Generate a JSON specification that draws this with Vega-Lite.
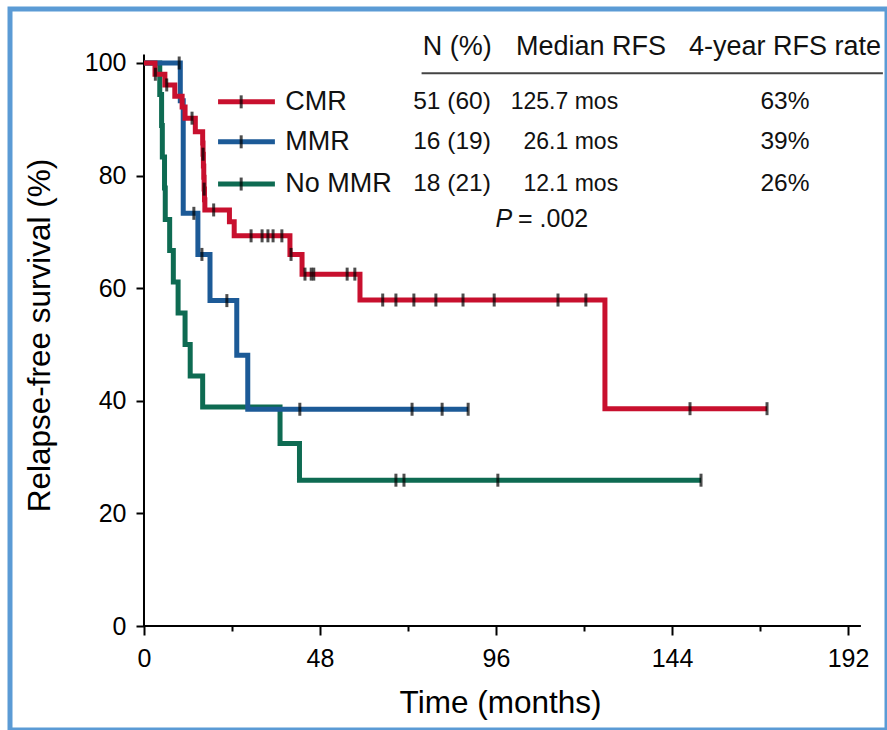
{
  "$schema": "https://vega.github.io/schema/vega-lite/v6.json",
  "width": 877,
  "height": 721,
  "autosize": {"type": "none"},
  "padding": {"left": 10, "top": 9, "right": 0, "bottom": 0},
  "background": "white",
  "config": {
    "view": {"stroke": "#5B9BD5", "strokeWidth": 5},
    "font": "Liberation Sans",
    "text": {"font": "Liberation Sans", "fontSize": 25, "color": "#111111", "baseline": "middle"}
  },
  "datasets": {
    "curves": [
      {"group": "CMR", "t": 0, "s": 100}, {"group": "CMR", "t": 3.0, "s": 98.0}, {"group": "CMR", "t": 5.7, "s": 96.1},
      {"group": "CMR", "t": 8.4, "s": 94.1}, {"group": "CMR", "t": 10.4, "s": 92.2}, {"group": "CMR", "t": 11.2, "s": 90.2},
      {"group": "CMR", "t": 14.0, "s": 87.8}, {"group": "CMR", "t": 16.0, "s": 85.8}, {"group": "CMR", "t": 16.1, "s": 83.8},
      {"group": "CMR", "t": 16.2, "s": 81.7}, {"group": "CMR", "t": 16.3, "s": 79.7}, {"group": "CMR", "t": 16.4, "s": 77.6},
      {"group": "CMR", "t": 16.5, "s": 75.7}, {"group": "CMR", "t": 16.6, "s": 73.9}, {"group": "CMR", "t": 23.3, "s": 71.8},
      {"group": "CMR", "t": 24.6, "s": 69.3}, {"group": "CMR", "t": 39.8, "s": 66.0}, {"group": "CMR", "t": 43.1, "s": 62.5},
      {"group": "CMR", "t": 58.9, "s": 57.9}, {"group": "CMR", "t": 125.7, "s": 38.6}, {"group": "CMR", "t": 169.9, "s": 38.6},
      {"group": "MMR", "t": 0, "s": 100}, {"group": "MMR", "t": 9.9, "s": 93.3}, {"group": "MMR", "t": 10.7, "s": 73.3},
      {"group": "MMR", "t": 14.7, "s": 66.0}, {"group": "MMR", "t": 18.0, "s": 57.8}, {"group": "MMR", "t": 25.3, "s": 48.1},
      {"group": "MMR", "t": 28.3, "s": 38.5}, {"group": "MMR", "t": 88.4, "s": 38.5},
      {"group": "No MMR", "t": 0, "s": 100}, {"group": "No MMR", "t": 4.3, "s": 94.4}, {"group": "No MMR", "t": 4.8, "s": 88.9},
      {"group": "No MMR", "t": 5.0, "s": 83.3}, {"group": "No MMR", "t": 5.6, "s": 77.8}, {"group": "No MMR", "t": 5.8, "s": 72.2},
      {"group": "No MMR", "t": 7.0, "s": 66.7}, {"group": "No MMR", "t": 8.0, "s": 61.1}, {"group": "No MMR", "t": 9.3, "s": 55.6},
      {"group": "No MMR", "t": 11.2, "s": 50.0}, {"group": "No MMR", "t": 12.6, "s": 44.4}, {"group": "No MMR", "t": 16.0, "s": 38.9},
      {"group": "No MMR", "t": 37.1, "s": 32.4}, {"group": "No MMR", "t": 42.4, "s": 25.9}, {"group": "No MMR", "t": 151.9, "s": 25.9}
    ],
    "censors": [
      {"group": "CMR", "t": 3.1, "s": 98.0}, {"group": "CMR", "t": 6.2, "s": 96.1}, {"group": "CMR", "t": 13.1, "s": 90.2},
      {"group": "CMR", "t": 16.1, "s": 83.8}, {"group": "CMR", "t": 16.4, "s": 77.6}, {"group": "CMR", "t": 19.0, "s": 73.9},
      {"group": "CMR", "t": 29.2, "s": 69.3}, {"group": "CMR", "t": 32.2, "s": 69.3}, {"group": "CMR", "t": 33.8, "s": 69.3},
      {"group": "CMR", "t": 35.2, "s": 69.3}, {"group": "CMR", "t": 37.6, "s": 69.3}, {"group": "CMR", "t": 40.1, "s": 66.0},
      {"group": "CMR", "t": 43.9, "s": 62.5}, {"group": "CMR", "t": 45.6, "s": 62.5}, {"group": "CMR", "t": 46.3, "s": 62.5},
      {"group": "CMR", "t": 55.4, "s": 62.5}, {"group": "CMR", "t": 57.5, "s": 62.5}, {"group": "CMR", "t": 65.1, "s": 57.9},
      {"group": "CMR", "t": 68.7, "s": 57.9}, {"group": "CMR", "t": 73.6, "s": 57.9}, {"group": "CMR", "t": 79.6, "s": 57.9},
      {"group": "CMR", "t": 87.0, "s": 57.9}, {"group": "CMR", "t": 95.5, "s": 57.9}, {"group": "CMR", "t": 112.9, "s": 57.9},
      {"group": "CMR", "t": 120.5, "s": 57.9}, {"group": "CMR", "t": 148.9, "s": 38.6}, {"group": "CMR", "t": 169.9, "s": 38.6},
      {"group": "MMR", "t": 9.6, "s": 100}, {"group": "MMR", "t": 13.6, "s": 73.3}, {"group": "MMR", "t": 15.8, "s": 66.0},
      {"group": "MMR", "t": 22.6, "s": 57.8}, {"group": "MMR", "t": 42.5, "s": 38.5}, {"group": "MMR", "t": 73.1, "s": 38.5},
      {"group": "MMR", "t": 81.3, "s": 38.5}, {"group": "MMR", "t": 88.4, "s": 38.5},
      {"group": "No MMR", "t": 68.7, "s": 25.9}, {"group": "No MMR", "t": 70.9, "s": 25.9}, {"group": "No MMR", "t": 96.5, "s": 25.9},
      {"group": "No MMR", "t": 151.9, "s": 25.9},
      {"group": "legend", "t": 26.5, "s": 93.1}, {"group": "legend", "t": 26.5, "s": 86.0}, {"group": "legend", "t": 26.5, "s": 78.5}
    ],
    "rules": [
      {"kind": "xaxis", "t": 0, "t2": 195.5, "s": 0, "s2": 0},
      {"kind": "yaxis", "t": 0, "t2": 0, "s": 0, "s2": 101.5},
      {"kind": "header", "t": 75.7, "t2": 201.5, "s": 98.2, "s2": 98.2}
    ],
    "legend": [
      {"group": "CMR", "t": 20.2, "t2": 35.7, "s": 93.1},
      {"group": "MMR", "t": 20.2, "t2": 35.7, "s": 86.0},
      {"group": "No MMR", "t": 20.2, "t2": 35.7, "s": 78.5}
    ],
    "texts": [
      {"col": "head", "t": 85.4, "s": 102.8, "label": "N (%)"},
      {"col": "head", "t": 121.9, "s": 102.8, "label": "Median RFS"},
      {"col": "head", "t": 174.8, "s": 102.8, "label": "4-year RFS rate"},
      {"col": "label", "t": 38.5, "s": 93.1, "label": "CMR"},
      {"col": "label", "t": 38.5, "s": 86.0, "label": "MMR"},
      {"col": "label", "t": 38.5, "s": 78.5, "label": "No MMR"},
      {"col": "numc", "t": 84.0, "s": 93.1, "label": "51 (60)"},
      {"col": "numc", "t": 84.0, "s": 86.0, "label": "16 (19)"},
      {"col": "numc", "t": 84.0, "s": 78.5, "label": "18 (21)"},
      {"col": "numr", "t": 129.3, "s": 93.1, "label": "125.7 mos"},
      {"col": "numr", "t": 129.3, "s": 86.0, "label": "26.1 mos"},
      {"col": "numr", "t": 129.3, "s": 78.5, "label": "12.1 mos"},
      {"col": "pct", "t": 174.8, "s": 93.1, "label": "63%"},
      {"col": "pct", "t": 174.8, "s": 86.0, "label": "39%"},
      {"col": "pct", "t": 174.8, "s": 78.5, "label": "26%"},
      {"col": "italic", "t": 100.4, "s": 72.3, "label": "P"},
      {"col": "pval", "t": 102.0, "s": 72.3, "label": "= .002"}
    ]
  },
  "encoding": {
    "x": {
      "field": "t", "type": "quantitative",
      "scale": {"domain": [-36.54, 202.62], "nice": false, "zero": false},
      "axis": {
        "values": [0, 24, 48, 72, 96, 120, 144, 168, 192],
        "labelExpr": "datum.value % 48 === 0 ? datum.label : ''",
        "tickSize": {"condition": {"test": "datum.value % 48 !== 0", "value": 5}, "value": 9},
        "tickWidth": 2, "tickColor": "black",
        "offset": -104, "domain": false, "grid": false,
        "labelFontSize": 25, "labelColor": "black", "labelPadding": 11, "labelFont": "Liberation Sans",
        "title": "Time (months)", "titleFontSize": 31.5, "titleFontWeight": "normal", "titleColor": "black",
        "titleFont": "Liberation Sans",
        "titleX": 490, "titleY": 77, "titleAlign": "center", "titleBaseline": "middle"
      }
    },
    "y": {
      "field": "s", "type": "quantitative",
      "scale": {"domain": [-18.47, 109.59], "nice": false, "zero": false},
      "axis": {
        "values": [0, 20, 40, 60, 80, 100],
        "tickSize": 8, "tickWidth": 2, "tickColor": "black",
        "offset": -134, "domain": false, "grid": false,
        "labelFontSize": 25, "labelColor": "black", "labelPadding": 10, "labelFont": "Liberation Sans",
        "title": "Relapse-free survival (%)", "titleFontSize": 31.5, "titleFontWeight": "normal", "titleColor": "black",
        "titleFont": "Liberation Sans",
        "titleX": -104, "titleY": 326, "titleAngle": -90, "titleAlign": "center", "titleBaseline": "middle"
      }
    }
  },
  "layer": [
    {
      "data": {"name": "rules"},
      "transform": [{"filter": "datum.kind !== 'header'"}],
      "mark": {"type": "rule", "color": "black", "strokeWidth": 2},
      "encoding": {"x2": {"field": "t2"}, "y2": {"field": "s2"}}
    },
    {
      "data": {"name": "rules"},
      "transform": [{"filter": "datum.kind === 'header'"}],
      "mark": {"type": "rule", "color": "#444444", "strokeWidth": 2},
      "encoding": {"x2": {"field": "t2"}, "y2": {"field": "s2"}}
    },
    {
      "data": {"name": "curves"},
      "transform": [{"filter": "datum.group === 'No MMR'"}],
      "mark": {"type": "line", "interpolate": "step-after", "color": "#0E6B52", "strokeWidth": 5},
      "encoding": {}
    },
    {
      "data": {"name": "curves"},
      "transform": [{"filter": "datum.group === 'MMR'"}],
      "mark": {"type": "line", "interpolate": "step-after", "color": "#1C5A97", "strokeWidth": 5},
      "encoding": {}
    },
    {
      "data": {"name": "curves"},
      "transform": [{"filter": "datum.group === 'CMR'"}],
      "mark": {"type": "line", "interpolate": "step-after", "color": "#C8102E", "strokeWidth": 5},
      "encoding": {}
    },
    {
      "data": {"name": "legend"},
      "mark": {"type": "rule", "strokeWidth": 5},
      "encoding": {
        "x2": {"field": "t2"},
        "color": {"field": "group", "type": "nominal",
          "scale": {"domain": ["CMR", "MMR", "No MMR"], "range": ["#C8102E", "#1C5A97", "#0E6B52"]},
          "legend": null}
      }
    },
    {
      "data": {"name": "censors"},
      "mark": {"type": "tick", "orient": "vertical", "size": 13, "thickness": 3, "color": "black"},
      "encoding": {}
    },
    {
      "data": {"name": "texts"},
      "transform": [{"filter": "datum.col === 'head'"}],
      "mark": {"type": "text", "align": "center", "fontSize": 27},
      "encoding": {"text": {"field": "label"}}
    },
    {
      "data": {"name": "texts"},
      "transform": [{"filter": "datum.col === 'label'"}],
      "mark": {"type": "text", "align": "left", "fontSize": 27},
      "encoding": {"text": {"field": "label"}}
    },
    {
      "data": {"name": "texts"},
      "transform": [{"filter": "datum.col === 'numc' || datum.col === 'pct'"}],
      "mark": {"type": "text", "align": "center", "fontSize": 24.5},
      "encoding": {"text": {"field": "label"}}
    },
    {
      "data": {"name": "texts"},
      "transform": [{"filter": "datum.col === 'numr'"}],
      "mark": {"type": "text", "align": "right", "fontSize": 23},
      "encoding": {"text": {"field": "label"}}
    },
    {
      "data": {"name": "texts"},
      "transform": [{"filter": "datum.col === 'pval'"}],
      "mark": {"type": "text", "align": "left", "fontSize": 25},
      "encoding": {"text": {"field": "label"}}
    },
    {
      "data": {"name": "texts"},
      "transform": [{"filter": "datum.col === 'italic'"}],
      "mark": {"type": "text", "align": "right", "fontSize": 25, "fontStyle": "italic"},
      "encoding": {"text": {"field": "label"}}
    }
  ]
}
